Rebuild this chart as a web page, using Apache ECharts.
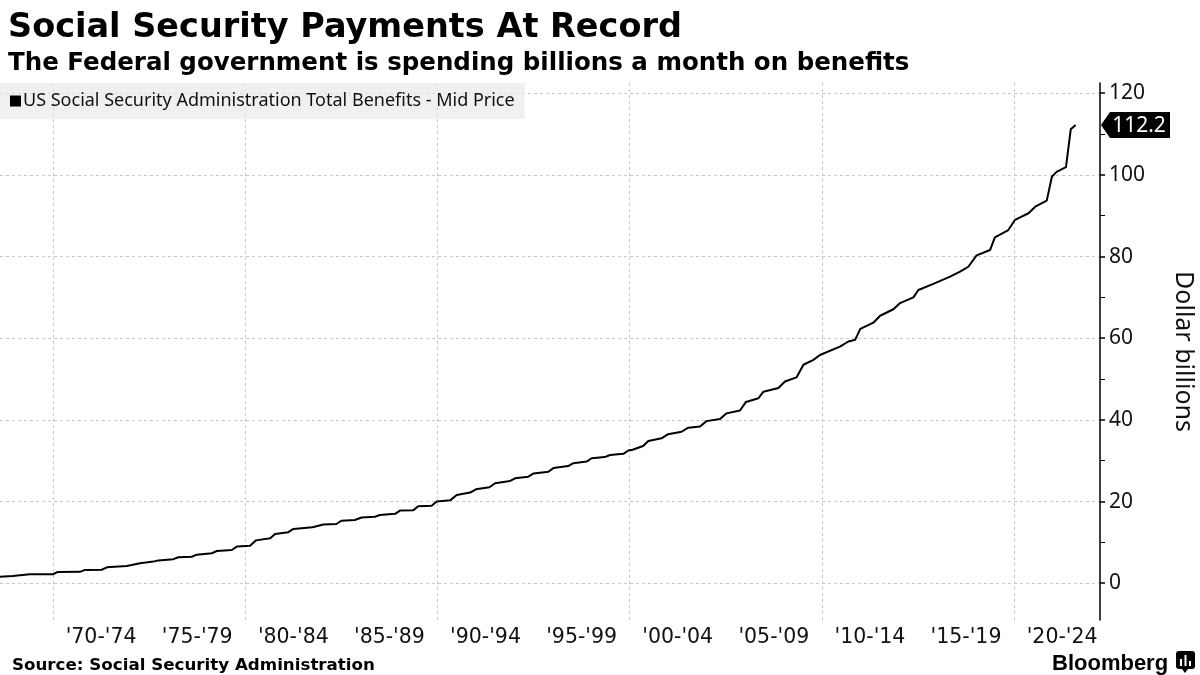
<!DOCTYPE html>
<html>
<head>
<meta charset="utf-8">
<script src="https://cdn.jsdelivr.net/npm/echarts@6/dist/echarts.min.js"></script>
<style>
html,body{margin:0;padding:0;background:#fff;}
#chart{width:1200px;height:675px;}
</style>
</head>
<body>
<div id="chart"></div>
<script>
// ---- data ----
const years = [
  1967.24, 1967.9, 1968.4, 1968.8, 1970.0, 1970.25, 1971.4, 1971.66, 1972.53, 1972.8,
  1973.83, 1974.09, 1974.52, 1975.22, 1975.48, 1976.26, 1976.52, 1977.21, 1977.48, 1978.26,
  1978.52, 1979.3, 1979.56, 1980.25, 1980.56, 1981.3, 1981.55, 1982.24, 1982.5, 1983.5,
  1984.06, 1984.74, 1985.0, 1985.7, 1986.05, 1986.75, 1987.0, 1987.8, 1988.05, 1988.75,
  1989.0, 1989.7, 1989.96, 1990.66, 1991.0, 1991.7, 1992.0, 1992.7, 1993.0, 1993.78,
  1994.04, 1994.73, 1995.0, 1995.77, 1996.03, 1996.8, 1997.07, 1997.76, 1998.02, 1998.7,
  1998.98, 1999.67, 1999.93, 2000.15, 2000.7, 2000.97, 2001.66, 2002.0, 2002.7, 2003.05,
  2003.66, 2004.0, 2004.7, 2005.04, 2005.74, 2006.05, 2006.7, 2006.96, 2007.74, 2008.08,
  2008.68, 2009.04, 2009.56, 2009.9, 2010.94, 2011.38, 2011.73, 2012.0, 2012.68, 2013.03,
  2013.72, 2014.07, 2014.76, 2015.02, 2015.8, 2016.67, 2017.19, 2017.62, 2018.05, 2018.75,
  2019.0, 2019.7, 2020.05, 2020.75, 2021.1, 2021.7, 2021.97, 2022.23, 2022.7, 2022.95,
  2023.2
];
const benefits = [
  1.62, 1.75, 2.0, 2.2, 2.2, 2.77, 2.8, 3.26, 3.3, 3.9,
  4.24, 4.48, 4.9, 5.3, 5.6, 5.9, 6.37, 6.5, 7.0, 7.35,
  7.9, 8.15, 8.97, 9.2, 10.5, 11.0, 12.07, 12.5, 13.3, 13.7,
  14.4, 14.5, 15.3, 15.5, 16.1, 16.3, 16.7, 17.0, 17.8, 17.9,
  18.85, 19.0, 20.0, 20.3, 21.6, 22.2, 23.0, 23.5, 24.5, 25.05,
  25.7, 26.1, 26.9, 27.3, 28.2, 28.7, 29.4, 29.8, 30.6, 30.9,
  31.4, 31.7, 32.5, 32.7, 33.6, 34.85, 35.5, 36.5, 37.1, 38.1,
  38.4, 39.7, 40.2, 41.6, 42.3, 44.4, 45.3, 46.9, 47.8, 49.4,
  50.4, 53.5, 54.7, 55.9, 57.95, 59.2, 59.6, 62.3, 63.8, 65.5,
  67.1, 68.6, 70.0, 71.8, 73.3, 75.1, 76.3, 77.5, 80.3, 81.6,
  84.7, 86.5, 89.0, 90.6, 92.2, 93.7, 99.6, 100.8, 101.9, 111.2,
  112.2
];
const gridYears = [1970, 1980, 1990, 2000, 2010, 2020];
const periodCenters = [1972.5, 1977.5, 1982.5, 1987.5, 1992.5, 1997.5, 2002.5, 2007.5, 2012.5, 2017.5, 2022.5];
const periodLabels = ["'70-'74", "'75-'79", "'80-'84", "'85-'89", "'90-'94", "'95-'99", "'00-'04", "'05-'09", "'10-'14", "'15-'19", "'20-'24"];
const yMajorTicks = [0, 20, 40, 60, 80, 100, 120];
const yMinorTicks = [10, 30, 50, 70, 90, 110];
const seriesName = 'US Social Security Administration Total Benefits - Mid Price';
const lastValue = benefits[benefits.length - 1];

// ---- chart ----
const chart = echarts.init(document.getElementById('chart'), null, {renderer: 'canvas'});
const labelFont = 'Noto Sans';
const boldFont = 'DejaVu Sans';
const gridLine = {show: true, lineStyle: {color: '#c8c8c8', width: 1, type: [3, 3]}};

const option = {
  animation: false,
  backgroundColor: '#ffffff',
  title: [
    {text: 'Social Security Payments At Record', left: 3, top: 6,
     textStyle: {fontFamily: boldFont, fontWeight: 'bold', fontSize: 33.5, color: '#000'}},
    {text: 'The Federal government is spending billions a month on benefits', left: 3, top: 46,
     textStyle: {fontFamily: boldFont, fontWeight: 'bold', fontSize: 24.5, color: '#000'}},
    {text: 'Source: Social Security Administration', left: 7, top: 652,
     textStyle: {fontFamily: boldFont, fontWeight: 'bold', fontSize: 16.7, color: '#000'}},
    {text: 'Bloomberg', left: 1047, top: 648,
     textStyle: {fontFamily: 'Liberation Sans', fontWeight: 'bold', fontSize: 22, color: '#000'}}
  ],
  legend: {
    left: 0, top: 83, orient: 'horizontal',
    backgroundColor: 'rgba(232,232,232,0.65)',
    padding: [9, 10, 9, 10],
    icon: 'rect', itemWidth: 11, itemHeight: 11, itemGap: 4,
    textStyle: {fontFamily: labelFont, fontSize: 18, color: '#111', padding: [0, 0, 0, -3]},
    data: [seriesName]
  },
  grid: {left: 0, right: 100, top: 83, bottom: 55, containLabel: false, outerBoundsMode: 'none'},
  xAxis: {
    type: 'value', min: 1967.24, max: 2024.47,
    axisLine: {show: false},
    axisTick: {show: false, customValues: gridYears},
    splitLine: gridLine,
    axisLabel: {
      customValues: periodCenters,
      fontFamily: 'DejaVu Sans', fontSize: 20.5, color: '#111', margin: 7,
      formatter: function (v) {
        for (let i = 0; i < periodCenters.length; i++) {
          if (Math.abs(periodCenters[i] - v) < 1e-6) return periodLabels[i];
        }
        return '';
      }
    }
  },
  yAxis: [
    {
      type: 'value', position: 'right', min: -9, max: 122.5,
      axisLine: {show: true, lineStyle: {color: '#000', width: 1.5}},
      axisTick: {show: true, inside: false, length: 5, customValues: yMajorTicks, lineStyle: {color: '#000', width: 1.5}},
      axisLabel: {customValues: yMajorTicks, fontFamily: labelFont, fontSize: 21, color: '#111', margin: 9},
      splitLine: gridLine,
      name: 'Dollar billions', nameLocation: 'middle', nameRotate: -90, nameGap: 71,
      nameTextStyle: {fontFamily: labelFont, fontSize: 25, color: '#111'}
    },
    {
      type: 'value', position: 'right', min: -9, max: 122.5,
      axisLine: {show: false},
      axisTick: {show: true, inside: false, length: 5, customValues: yMinorTicks, lineStyle: {color: '#000', width: 1}},
      axisLabel: {show: false},
      splitLine: {show: false}
    }
  ],
  series: [{
    name: seriesName,
    type: 'line',
    xAxisIndex: 0, yAxisIndex: 0,
    data: years.map((y, i) => [y, benefits[i]]),
    showSymbol: false, symbol: 'none',
    itemStyle: {color: '#000'},
    lineStyle: {color: '#000', width: 2},
    silent: true
  }]
};
chart.setOption(option);

// end-value tag on the axis and Bloomberg mark
const py = chart.convertToPixel({yAxisIndex: 0}, lastValue);
const ax = chart.convertToPixel({xAxisIndex: 0}, 2024.47);
chart.setOption({
  graphic: [
    {type: 'polygon', shape: {points: [[ax + 1, py], [ax + 10, py - 13], [ax + 70, py - 13], [ax + 70, py + 13], [ax + 10, py + 13]]},
     style: {fill: '#000'}, z: 100},
    {type: 'text', x: ax + 39, y: py + 1, z: 101,
     style: {text: lastValue.toFixed(1), fill: '#fff', font: '21px "Noto Sans"', align: 'center', verticalAlign: 'middle'}},
    {type: 'group', x: 1176, y: 651, z: 100, children: [
      {type: 'rect', shape: {x: 0, y: 0, width: 19, height: 18, r: 3}, style: {fill: '#000'}},
      {type: 'polygon', shape: {points: [[6, 18], [9, 22], [12, 18]]}, style: {fill: '#000'}},
      {type: 'rect', shape: {x: 4, y: 8, width: 2, height: 7}, style: {fill: '#fff'}},
      {type: 'rect', shape: {x: 8.5, y: 4, width: 2, height: 11}, style: {fill: '#fff'}},
      {type: 'rect', shape: {x: 13, y: 10, width: 2, height: 5}, style: {fill: '#fff'}}
    ]}
  ]
});
</script>
</body>
</html>
